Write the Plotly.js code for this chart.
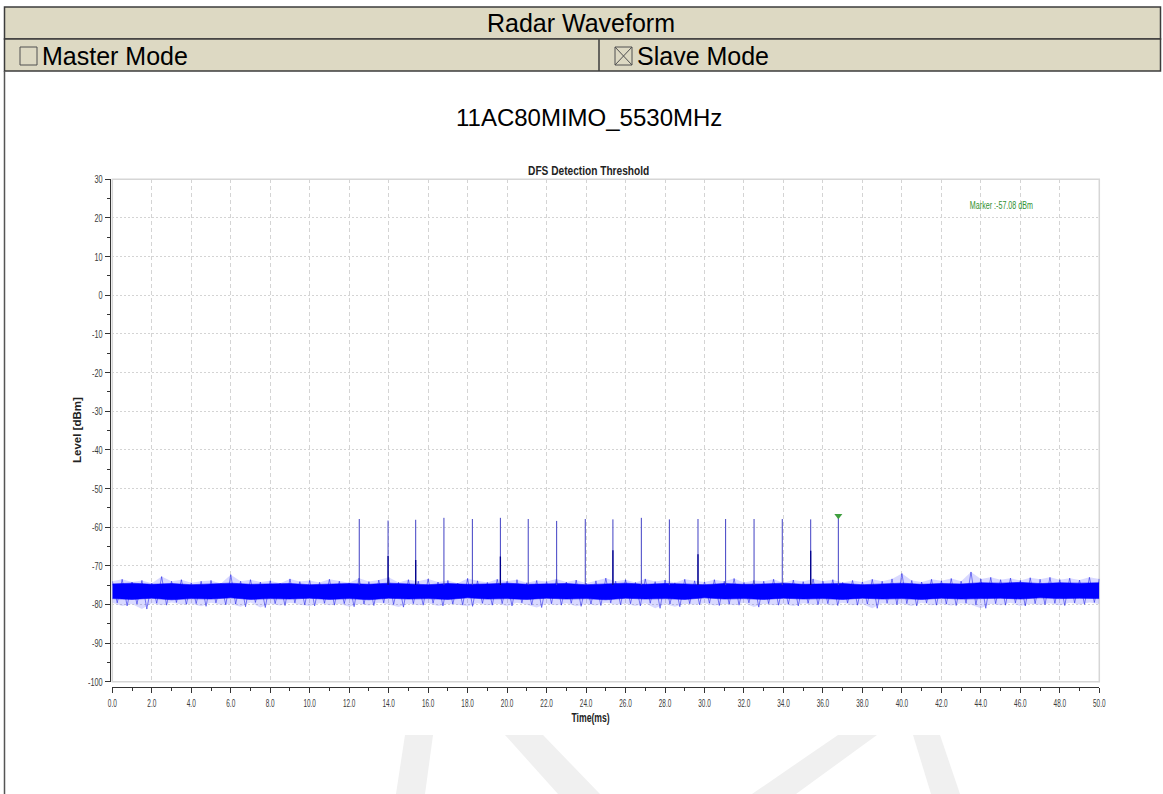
<!DOCTYPE html>
<html>
<head>
<meta charset="utf-8">
<script src="https://cdn.plot.ly/plotly-3.0.1.min.js"></script>
<style>html,body{margin:0;padding:0;background:#fff;}#chart{width:1163px;height:794px;}</style>
</head>
<body>
<div id="chart"></div>
<script>
// ---------------- DATA ----------------
const headerTitle = "Radar Waveform";
const modeLabels = ["Master Mode", "Slave Mode"];
const chartTitle = "11AC80MIMO_5530MHz";
const plotTitle = "DFS Detection Threshold";
const xTitle = "Time(ms)";
const yTitle = "Level [dBm]";
const markerLabel = "Marker :-57.08 dBm";

const xTickVals = [0,2,4,6,8,10,12,14,16,18,20,22,24,26,28,30,32,34,36,38,40,42,44,46,48,50];
const xTickText = ["0.0","2.0","4.0","6.0","8.0","10.0","12.0","14.0","16.0","18.0","20.0","22.0","24.0","26.0","28.0","30.0","32.0","34.0","36.0","38.0","40.0","42.0","44.0","46.0","48.0","50.0"];
const yTickVals = [-100,-90,-80,-70,-60,-50,-40,-30,-20,-10,0,10,20,30];
const yTickText = ["-100","-90","-80","-70","-60","-50","-40","-30","-20","-10","0","10","20","30"];

// noise floor: upper / lower peak envelope every 0.5 ms (0 .. 50 ms)
const noiseHiPk = [
 -74.0,-73.5,-74.2,-73.8,-74.5,-72.8,-74.0,-73.6,-74.4,-74.0,
 -73.8,-74.6,-72.3,-74.0,-73.6,-74.2,-73.9,-74.5,-73.4,-74.1,
 -73.8,-74.3,-73.5,-74.0,-74.4,-73.2,-74.1,-73.7,-73.0,-74.3,
 -73.6,-74.0,-73.4,-74.2,-73.8,-74.5,-73.3,-73.9,-74.3,-73.5,
 -74.0,-73.6,-74.4,-73.8,-74.1,-73.4,-74.2,-73.7,-74.5,-73.9,
 -73.2,-74.0,-73.6,-74.3,-73.4,-74.1,-73.7,-74.4,-73.5,-73.9,
 -74.2,-73.6,-74.0,-73.3,-74.3,-73.8,-74.0,-73.5,-74.4,-73.7,
 -74.1,-73.4,-74.0,-73.6,-74.3,-73.8,-74.2,-73.5,-74.0,-73.4,
 -72.0,-73.8,-74.2,-73.5,-73.9,-73.3,-74.0,-71.6,-73.4,-73.0,
 -73.6,-73.2,-73.8,-73.1,-73.5,-73.0,-73.6,-73.2,-73.7,-73.0,
 -73.4];
const noiseLoPk = [
 -79.6,-80.4,-79.9,-81.2,-79.7,-80.2,-79.5,-80.0,-79.8,-80.5,
 -79.6,-80.1,-79.9,-80.6,-79.5,-80.8,-79.8,-80.3,-79.6,-80.1,
 -80.4,-79.7,-80.2,-79.8,-80.6,-79.9,-80.3,-79.6,-80.0,-80.7,
 -79.8,-80.2,-79.7,-80.4,-79.9,-80.1,-80.5,-79.7,-80.2,-79.8,
 -80.4,-79.6,-80.1,-80.8,-79.8,-80.2,-79.7,-80.5,-79.9,-80.3,
 -79.6,-80.1,-79.8,-80.4,-79.7,-81.0,-79.9,-80.6,-79.8,-80.1,
 -79.7,-80.3,-79.9,-80.2,-79.6,-80.7,-79.8,-80.2,-79.9,-80.4,
 -79.7,-80.1,-79.8,-80.3,-79.6,-80.2,-79.9,-81.0,-79.7,-80.1,
 -79.8,-80.4,-79.6,-80.2,-79.9,-80.3,-79.7,-80.1,-81.0,-79.8,
 -80.2,-79.6,-80.4,-79.8,-80.1,-79.7,-80.3,-79.6,-80.0,-79.5,
 -79.9];
// dense core of the noise band every 1 ms (0 .. 50 ms)
const noiseCoreHi = [-74.7,-74.5,-74.8,-74.6,-74.9,-74.7,-74.5,-74.8,-74.7,-74.6,-74.9,-74.7,-74.6,-74.8,-74.5,-74.7,-74.9,-74.6,-74.8,-74.7,-74.5,-74.8,-74.7,-74.6,-74.9,-74.7,-74.5,-74.8,-74.6,-74.7,-74.9,-74.6,-74.8,-74.7,-74.5,-74.8,-74.7,-74.6,-74.9,-74.7,-74.5,-74.8,-74.6,-74.7,-74.4,-74.5,-74.3,-74.6,-74.4,-74.5,-74.4];
const noiseCoreLo = [-78.5,-78.7,-78.4,-78.8,-78.5,-78.6,-78.3,-78.7,-78.5,-78.6,-78.4,-78.7,-78.5,-78.8,-78.4,-78.6,-78.5,-78.7,-78.3,-78.6,-78.5,-78.7,-78.4,-78.6,-78.5,-78.8,-78.4,-78.6,-78.5,-78.7,-78.3,-78.6,-78.5,-78.7,-78.4,-78.6,-78.5,-78.7,-78.4,-78.6,-78.5,-78.7,-78.4,-78.6,-78.5,-78.4,-78.6,-78.3,-78.5,-78.4,-78.5];

// radar pulses (time in ms, peak level in dBm)
const pulseT  = [12.51,13.97,15.37,16.80,18.24,19.66,21.07,22.51,23.96,25.36,26.80,28.22,29.67,31.07,32.51,33.94,35.38,36.78];
const pulsePk = [-57.9,-58.3,-58.1,-57.6,-57.9,-57.6,-57.9,-58.4,-57.9,-58.0,-57.6,-58.0,-57.9,-57.9,-57.9,-57.9,-58.0,-57.1];
// darker lower part seen on some pulses
const pulseInT  = [13.97,15.37,19.66,25.36,29.67,35.38];
const pulseInPk = [-67.5,-68.5,-67.6,-66.0,-67.0,-66.1];
const pulseBase = -75.0;

// marker
const markerT = [36.78];
const markerLvl = [-57.08];

// ---------------- BUILD ----------------
const W = 1163, H = 794;
const PX = x => x / W;
const PY = y => 1 - y / H;

const tHalf = noiseHiPk.map((_, i) => i * 0.5);
const tOne = noiseCoreHi.map((_, i) => i);

const zigX = [], zigY = [];
noiseHiPk.forEach((v, i) => {
  zigX.push(tHalf[i]); zigY.push(v);
  zigX.push(tHalf[i] + 0.25); zigY.push(noiseLoPk[i]);
});

const pX = [], pY = [];
pulseT.forEach((t, i) => { pX.push(t, t, null); pY.push(pulseBase, pulsePk[i], null); });
const iX = [], iY = [];
pulseInT.forEach((t, i) => { iX.push(t, t, null); iY.push(pulseBase, pulseInPk[i], null); });

const traces = [
  {x: tHalf, y: noiseHiPk, mode: 'lines', line: {width: 0, color: 'rgba(0,0,255,0)'}, hoverinfo: 'skip'},
  {x: tHalf, y: noiseLoPk, mode: 'lines', fill: 'tonexty', fillcolor: 'rgba(80,80,255,0.22)', line: {width: 0, color: 'rgba(0,0,255,0)'}, hoverinfo: 'skip'},
  {x: zigX, y: zigY, mode: 'lines', line: {width: 0.7, color: 'rgba(20,20,230,0.75)'}, hoverinfo: 'skip'},
  {x: tOne, y: noiseCoreHi, mode: 'lines', line: {width: 0.6, color: '#0000ff'}, hoverinfo: 'skip'},
  {x: tOne, y: noiseCoreLo, mode: 'lines', fill: 'tonexty', fillcolor: '#0000ff', line: {width: 0.6, color: '#0000ff'}, hoverinfo: 'skip'},
  {x: pX, y: pY, mode: 'lines', line: {width: 1, color: '#4040c4'}, connectgaps: false, hoverinfo: 'skip'},
  {x: iX, y: iY, mode: 'lines', line: {width: 1.3, color: '#00008b'}, connectgaps: false, hoverinfo: 'skip'},
  {x: markerT, y: markerLvl, mode: 'markers', marker: {symbol: 'triangle-down', size: 7, color: '#3f9f3f'}, hoverinfo: 'skip'}
];

const frameCol = '#3c3c3c';
function rectPx(x0, y0, x1, y1, extra) {
  return Object.assign({type: 'rect', xref: 'paper', yref: 'paper', x0: PX(x0), x1: PX(x1), y0: PY(y1), y1: PY(y0)}, extra);
}
function linePx(x0, y0, x1, y1, extra) {
  return Object.assign({type: 'line', xref: 'paper', yref: 'paper', x0: PX(x0), x1: PX(x1), y0: PY(y0), y1: PY(y1)}, extra);
}
function pathPx(pts, extra) {
  const d = 'M ' + pts.map(p => PX(p[0]).toFixed(5) + ',' + PY(p[1]).toFixed(5)).join(' L ') + ' Z';
  return Object.assign({type: 'path', xref: 'paper', yref: 'paper', path: d}, extra);
}
const wm = {fillcolor: '#f0f0f0', line: {width: 0}, layer: 'below'};

const shapes = [
  // watermark pieces
  pathPx([[405,735],[433,735],[425,794],[396,794]], wm),
  pathPx([[505,735],[543,735],[600,794],[558,794]], wm),
  pathPx([[838,735],[877,735],[796,794],[752,794]], wm),
  pathPx([[913,735],[940,735],[960,794],[931,794]], wm),
  // header
  rectPx(4.5, 7, 1160.5, 39, {fillcolor: '#ddd9c3', line: {color: frameCol, width: 1.5}}),
  rectPx(4.5, 39, 1160.5, 71, {fillcolor: '#ddd9c3', line: {color: frameCol, width: 1.5}}),
  linePx(599, 39, 599, 71, {line: {color: frameCol, width: 1.5}}),
  linePx(4.5, 71, 4.5, 794, {line: {color: '#555', width: 1.5}}),
  // check boxes
  rectPx(20, 47, 37, 65, {line: {color: '#505050', width: 1}}),
  rectPx(615, 47, 632, 65, {line: {color: '#505050', width: 1}}),
  linePx(615, 47, 632, 65, {line: {color: '#505050', width: 1}}),
  linePx(615, 65, 632, 47, {line: {color: '#505050', width: 1}}),
  // plot frame
  rectPx(112.3, 179.3, 1099.3, 681.7, {line: {color: '#d6d6d6', width: 1.5}, layer: 'below'})
];

const sans = '"Liberation Sans", Arial, sans-serif';
const tickFont = {family: sans, size: 11.5, color: '#3a3a3a'};

const annotations = [
  {text: headerTitle, xref: 'paper', yref: 'paper', x: PX(581), y: PY(23), xanchor: 'center', yanchor: 'middle', showarrow: false, font: {family: sans, size: 25, color: '#000'}},
  {text: modeLabels[0], xref: 'paper', yref: 'paper', x: PX(40), y: PY(56), xanchor: 'left', yanchor: 'middle', showarrow: false, font: {family: sans, size: 25, color: '#000'}},
  {text: modeLabels[1], xref: 'paper', yref: 'paper', x: PX(635), y: PY(56), xanchor: 'left', yanchor: 'middle', showarrow: false, font: {family: sans, size: 25, color: '#000'}},
  {text: chartTitle, xref: 'paper', yref: 'paper', x: PX(589), y: PY(117), xanchor: 'center', yanchor: 'middle', showarrow: false, font: {family: sans, size: 24, color: '#000'}},
  {text: plotTitle, xref: 'paper', yref: 'paper', x: PX(588), y: PY(171), xanchor: 'center', yanchor: 'middle', showarrow: false, font: {family: sans, size: 13, color: '#222', weight: 'bold'}},
  {text: yTitle, xref: 'paper', yref: 'paper', x: PX(77), y: PY(430), xanchor: 'center', yanchor: 'middle', textangle: -90, showarrow: false, font: {family: sans, size: 11.5, color: '#222', weight: 'bold'}},
  {text: xTitle, xref: 'paper', yref: 'paper', x: PX(590), y: PY(718), xanchor: 'center', yanchor: 'middle', showarrow: false, font: {family: sans, size: 12, color: '#222', weight: 'bold'}},
  {text: markerLabel, xref: 'paper', yref: 'paper', x: PX(1001), y: PY(205), xanchor: 'center', yanchor: 'middle', showarrow: false, font: {family: sans, size: 10.5, color: '#2f8f2f'}}
];

const layout = {
  width: W, height: H,
  margin: {l: 0, r: 0, t: 0, b: 0, pad: 0},
  paper_bgcolor: '#ffffff', plot_bgcolor: 'rgba(0,0,0,0)',
  showlegend: false,
  xaxis: {
    domain: [PX(112.3), PX(1099.3)], range: [0, 50], anchor: 'free', position: PY(686.7),
    tickmode: 'array', tickvals: xTickVals, ticktext: xTickText,
    ticks: 'outside', ticklen: 5, tickwidth: 1, tickcolor: '#333',
    minor: {tickmode: 'linear', tick0: 0, dtick: 1, ticks: 'outside', ticklen: 3, tickcolor: '#333', showgrid: false},
    showline: true, linecolor: '#333', linewidth: 1.2,
    showgrid: true, gridcolor: '#d4d4d4', gridwidth: 1, griddash: '4px,3px',
    zeroline: false, tickfont: tickFont, fixedrange: true
  },
  yaxis: {
    domain: [PY(681.7), PY(179.3)], range: [-100, 30], anchor: 'free', position: PX(110),
    tickmode: 'array', tickvals: yTickVals, ticktext: yTickText,
    ticks: 'outside', ticklen: 5, tickwidth: 1, tickcolor: '#333',
    minor: {tickmode: 'linear', tick0: 0, dtick: 5, ticks: 'outside', ticklen: 3, tickcolor: '#333', showgrid: false},
    showline: true, linecolor: '#333', linewidth: 1.2,
    showgrid: true, gridcolor: '#d4d4d4', gridwidth: 1, griddash: '2px,2px',
    zeroline: false, tickfont: tickFont, fixedrange: true
  },
  shapes: shapes,
  annotations: annotations
};

// the original chart uses a condensed face: squeeze the small texts horizontally
function squeezeText(el, factor) {
  const L = el.getComputedTextLength();
  if (!L) return;
  el.setAttribute('textLength', (L * factor).toFixed(1));
  el.setAttribute('lengthAdjust', 'spacingAndGlyphs');
}
const squeezeAnn = {};
squeezeAnn[plotTitle] = 0.78;
squeezeAnn[xTitle] = 0.72;
squeezeAnn[markerLabel] = 0.68;

Plotly.newPlot('chart', traces, layout, {displayModeBar: false, staticPlot: true}).then(gd => {
  gd.querySelectorAll('.xtick text').forEach(t => squeezeText(t, 0.56));
  gd.querySelectorAll('.ytick text').forEach(t => squeezeText(t, 0.64));
  gd.querySelectorAll('.annotation-text').forEach(t => {
    const f = squeezeAnn[t.textContent];
    if (f) squeezeText(t, f);
  });
});
</script>
</body>
</html>
